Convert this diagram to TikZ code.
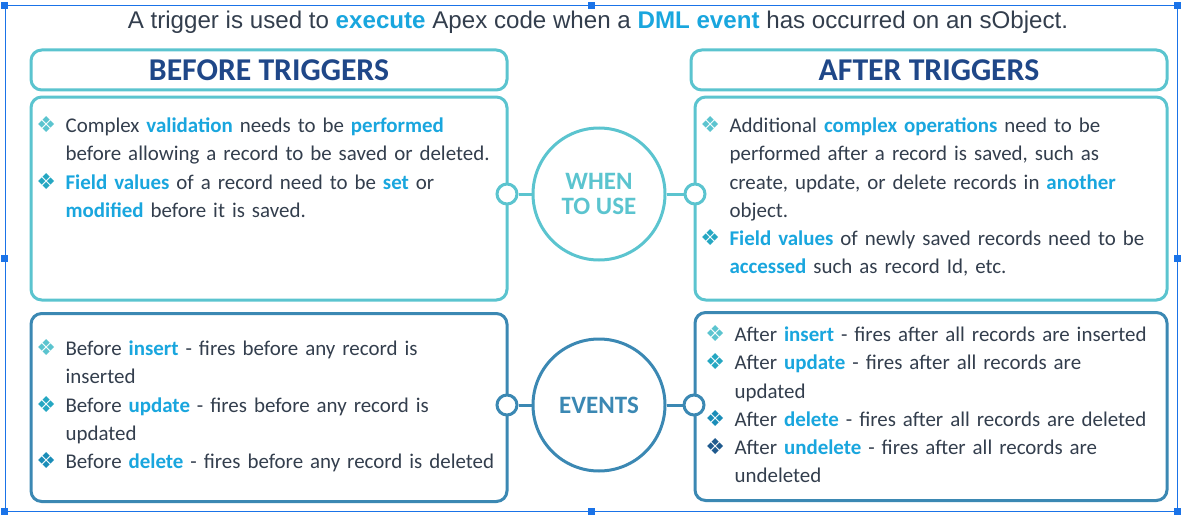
\documentclass[tikz,border=0pt]{standalone}
\usepackage{fontspec}
\setmainfont{Carlito}
\newfontfamily\titlefont{Liberation Sans}
\newfontfamily\symfont{DejaVu Sans}
\usetikzlibrary{positioning}
\definecolor{tealline}{HTML}{5BC4CF}
\definecolor{eventline}{HTML}{3B88B3}
\definecolor{navy}{HTML}{1F4788}
\definecolor{hlblue}{HTML}{19A6DE}
\definecolor{bodytext}{HTML}{333E4D}
\definecolor{selblue}{HTML}{1A73E8}
\definecolor{bulA}{HTML}{5BC4CF}
\definecolor{bulB}{HTML}{25A7C2}
\definecolor{bulC}{HTML}{1A8DB8}
\definecolor{bulD}{HTML}{1F5A8E}
\newcommand{\hl}[1]{\textbf{\color{hlblue}#1}}
\newcommand{\bul}[1]{\par\noindent\hangindent=22pt\hangafter=1\strut\makebox[22pt][l]{\symfont\fontsize{16.5pt}{16pt}\selectfont\color{#1}❖}}
\newcommand{\bodyfont}{\fontsize{15.7pt}{21.2pt}\selectfont}

\begin{document}
\begin{tikzpicture}[x=0.75pt,y=-0.75pt,
  frame/.style={draw,line width=2.25pt,rounded corners=8pt,inner sep=0pt,fill=white},
  hdrbox/.style={frame,draw=tealline,minimum width=357pt,minimum height=30pt,
    font=\fontsize{23.8pt}{26pt}\selectfont\bfseries,text=navy},
  usebox/.style={frame,draw=tealline,minimum height=152.25pt},
  evbox/.style={frame,draw=eventline,minimum height=141pt},
  bigcirc/.style={circle,draw,line width=2.25pt,minimum size=99pt,inner sep=0pt,
    font=\fontsize{18.75pt}{18.75pt}\selectfont\bfseries,align=center},
  knob/.style={circle,draw,line width=2.25pt,fill=white,minimum size=15pt,inner sep=0pt},
  bodytxt/.style={anchor=north west,inner sep=0pt,text width=360pt,align=left,
    font=\bodyfont,text=bodytext},
  handle/.style={fill=selblue,minimum size=5.25pt,inner sep=0pt}]
\useasboundingbox (0,0) rectangle (1188,517);
% selection frame
\node[draw=selblue,line width=0.75pt,minimum width=879pt,minimum height=378.75pt,inner sep=0pt] (sel) at (591,258.5) {};
\foreach \a [count=\i] in {north west,north,north east,west,east,south west,south,south east}
  \node[handle] (h\i) at (sel.\a) {};
% title
\node[anchor=base,font=\titlefont\fontsize{18.1pt}{20pt}\selectfont,text=bodytext,inner sep=0pt] (title) at (598,28.5)
  {A trigger is used to \hl{execute} Apex code when a \hl{DML event} has occurred on an sObject.};
% boxes
\node[hdrbox] (bhead) at (269,70) {BEFORE TRIGGERS};
\node[hdrbox] (ahead) at (929,70) {AFTER TRIGGERS};
\node[usebox,minimum width=357pt] (buse) at (269,198.5) {};
\node[usebox,minimum width=354pt] (ause) at (931,198.5) {};
\node[evbox,minimum width=357pt] (bev) at (269,407.5) {};
\node[evbox,minimum width=354pt] (aev) at (931,406.5) {};
% centre circles
\node[bigcirc,draw=tealline,text=tealline] (when) at (599,194) {WHEN\\TO USE};
\node[bigcirc,draw=eventline,text=eventline] (events) at (599,405) {EVENTS};
\node[knob,draw=tealline] (kbu) at (507,194) {};
\node[knob,draw=tealline] (kau) at (695,194) {};
\node[knob,draw=eventline] (kbe) at (507,405) {};
\node[knob,draw=eventline] (kae) at (694,405) {};
\draw[tealline,line width=2.25pt] (kbu) -- (when);
\draw[tealline,line width=2.25pt] (when) -- (kau);
\draw[eventline,line width=2.25pt] (kbe) -- (events);
\draw[eventline,line width=2.25pt] (events) -- (kae);
% texts
\node[bodytxt] (tbu) at (36,104) {%
  \bul{bulA}Complex \hl{validation} needs to be \hl{performed}\newline before allowing a record to be saved or deleted.
  \bul{bulB}\hl{Field values} of a record need to be \hl{set} or\newline\hl{modified} before it is saved.\par};
\node[bodytxt] (tau) at (700,104) {%
  \bul{bulA}Additional \hl{complex operations} need to be\newline performed after a record is saved, such as\newline create, update, or delete records in \hl{another}\newline object.
  \bul{bulB}\hl{Field values} of newly saved records need to be\newline\hl{accessed} such as record Id, etc.\par};
\node[bodytxt] (tbe) at (36,327) {%
  \bul{bulA}Before \hl{insert} - fires before any record is\newline inserted
  \bul{bulB}Before \hl{update} - fires before any record is\newline updated
  \bul{bulC}Before \hl{delete} - fires before any record is deleted\par};
\node[bodytxt] (tae) at (705,313) {%
  \bul{bulA}After \hl{insert} - fires after all records are inserted
  \bul{bulB}After \hl{update} - fires after all records are\newline updated
  \bul{bulC}After \hl{delete} - fires after all records are deleted
  \bul{bulD}After \hl{undelete} - fires after all records are\newline undeleted\par};
\end{tikzpicture}
\end{document}
